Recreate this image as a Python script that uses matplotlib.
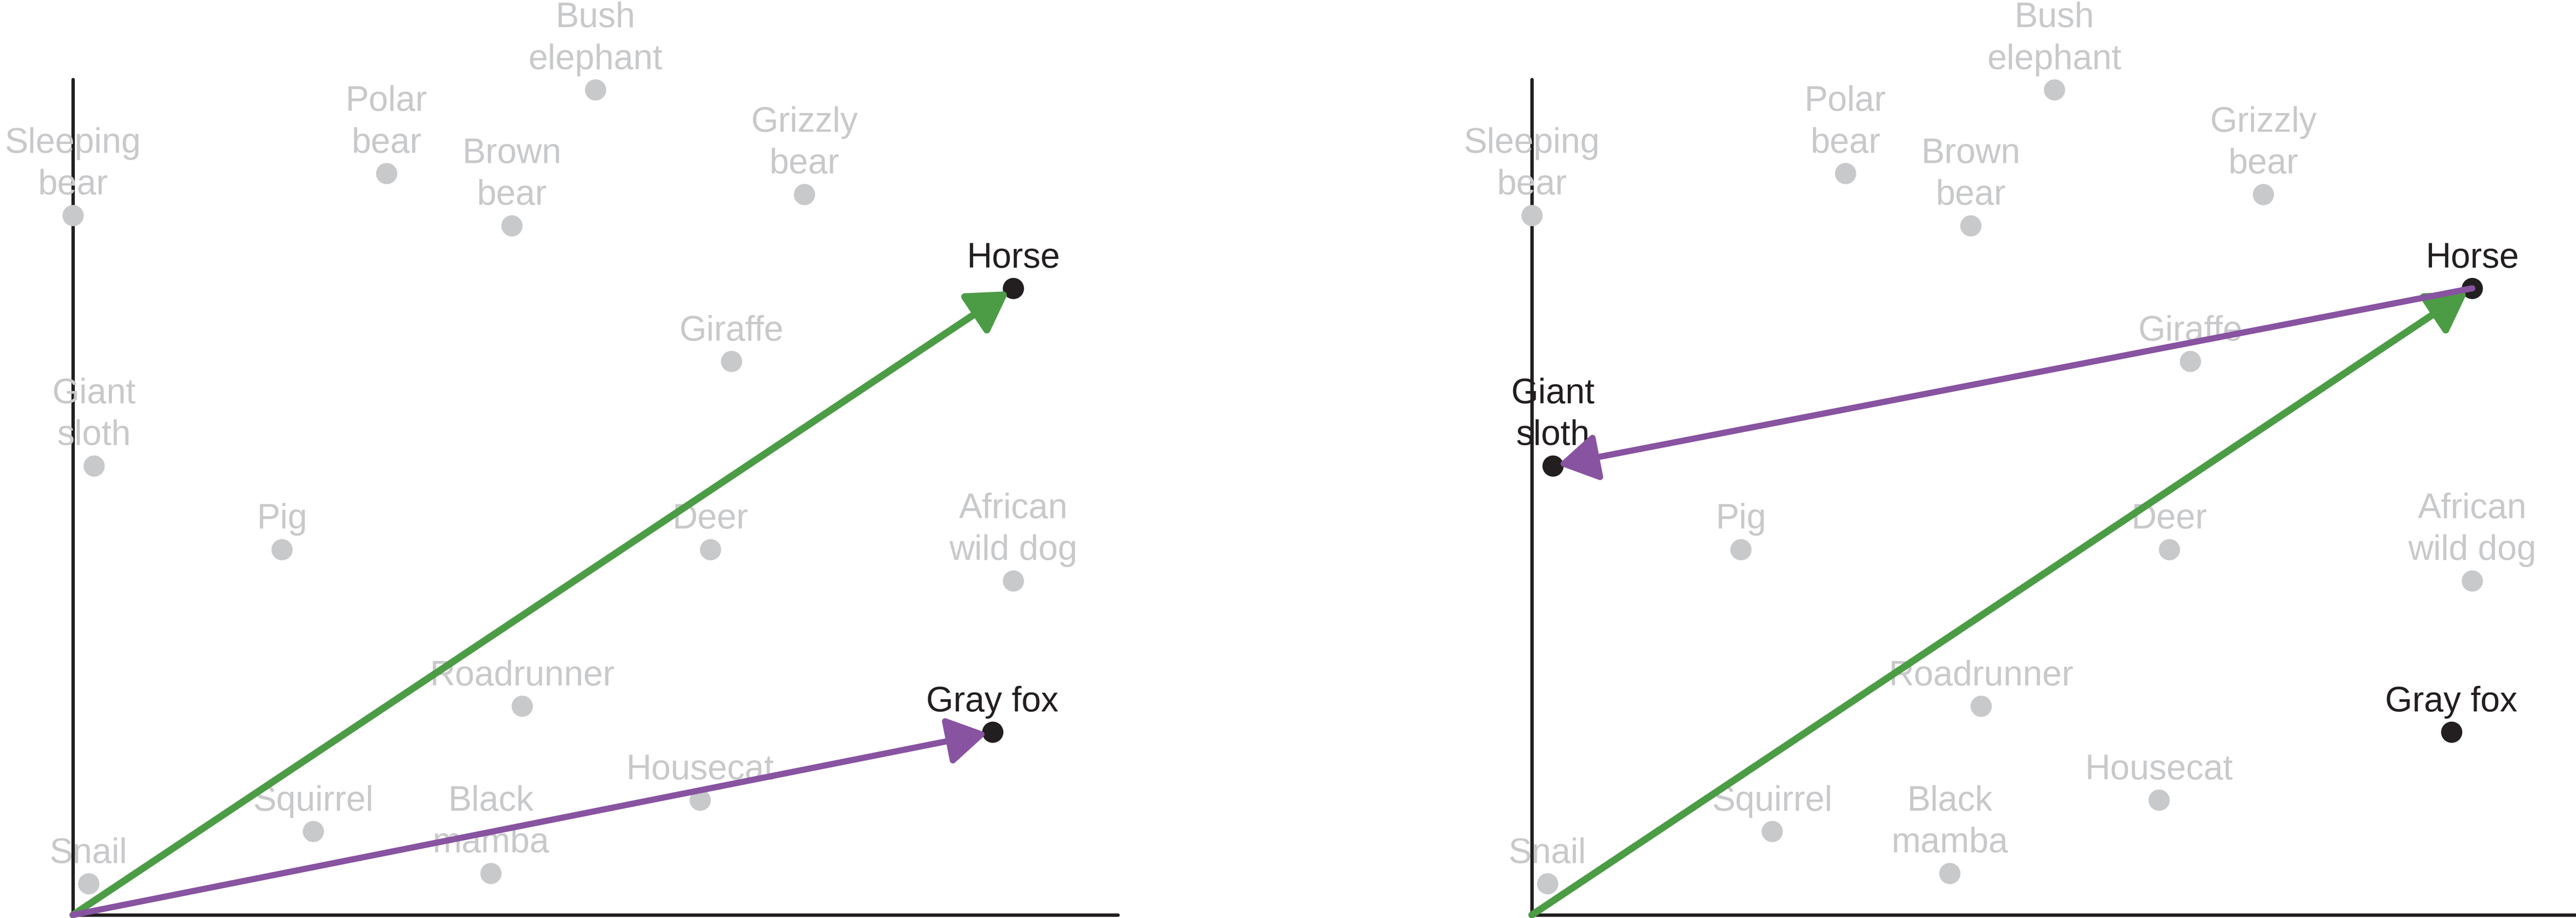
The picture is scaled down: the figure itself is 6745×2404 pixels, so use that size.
import matplotlib
matplotlib.use("Agg")
import matplotlib.pyplot as plt

plt.rcParams['font.family'] = ['Liberation Sans', 'DejaVu Sans']

# animal positions in the 2-d "embedding" space
animals = ["Sleeping\nbear", "Polar\nbear", "Brown\nbear", "Bush\nelephant", "Grizzly\nbear",
           "Horse", "Giraffe", "Giant\nsloth", "Pig", "Deer", "African\nwild dog",
           "Roadrunner", "Gray fox", "Housecat", "Squirrel", "Black\nmamba", "Snail"]
x_vals = [0.0, 3.0, 4.2, 5.0, 7.0, 9.0, 6.3, 0.2, 2.0, 6.1, 9.0, 4.3, 8.8, 6.0, 2.3, 4.0, 0.15]
y_vals = [6.7, 7.1, 6.6, 7.9, 6.9, 6.0, 5.3, 4.3, 3.5, 3.5, 3.2, 2.0, 1.75, 1.1, 0.8, 0.4, 0.3]

# which animals are highlighted and which vectors are drawn in each panel
left_highlight = ["Horse", "Gray fox"]
left_arrows = [(None, "Horse", "green"), (None, "Gray fox", "purple")]
right_highlight = ["Horse", "Giant\nsloth", "Gray fox"]
right_arrows = [(None, "Horse", "green"), ("Horse", "Giant\nsloth", "purple")]

GREY = "#c8c9cb"
DARK = "#231f20"
COLORS = {"green": "#4b9c45", "purple": "#8853a0"}
WIDTHS = {"green": 3.3, "purple": 2.9}


def draw_panel(ax, highlight, arrows):
    for name, x, y in zip(animals, x_vals, y_vals):
        c = DARK if name in highlight else GREY
        ax.plot(x, y, 'o', ms=10, color=c, mec='none', clip_on=False, zorder=3)
        ax.annotate(name, (x, y), xytext=(0, 9.8), textcoords='offset points',
                    ha='center', va='baseline', multialignment='center',
                    fontsize=16.5, color=c, zorder=3, linespacing=1.35)

    pos = dict(zip(animals, zip(x_vals, y_vals)))
    for start, end, col in arrows:
        p0 = (0.0, 0.0) if start is None else pos[start]
        ax.annotate('', xy=pos[end], xytext=p0,
                    arrowprops=dict(arrowstyle='-|>,head_length=0.78,head_width=0.47',
                                    mutation_scale=20, lw=WIDTHS[col], color=COLORS[col],
                                    shrinkA=0, shrinkB=2.5),
                    zorder=5, annotation_clip=False)

    ax.set_xlim(0, 10)
    ax.set_ylim(0, 8)
    for s in ['top', 'right']:
        ax.spines[s].set_visible(False)
    for s in ['left', 'bottom']:
        ax.spines[s].set_linewidth(1.6)
        ax.spines[s].set_color(DARK)
        ax.spines[s].set_capstyle('round')
    ax.set_xticks([])
    ax.set_yticks([])
    ax.patch.set_alpha(0)


fig = plt.figure(figsize=(6745 / 400, 2404 / 400), dpi=400)
ax1 = fig.add_axes([0.02832, 0.00333, 0.40563, 0.91015])
ax2 = fig.add_axes([0.59466, 0.00333, 0.40563, 0.91015])
draw_panel(ax1, left_highlight, left_arrows)
draw_panel(ax2, right_highlight, right_arrows)

fig.savefig("out.png", dpi=400)
